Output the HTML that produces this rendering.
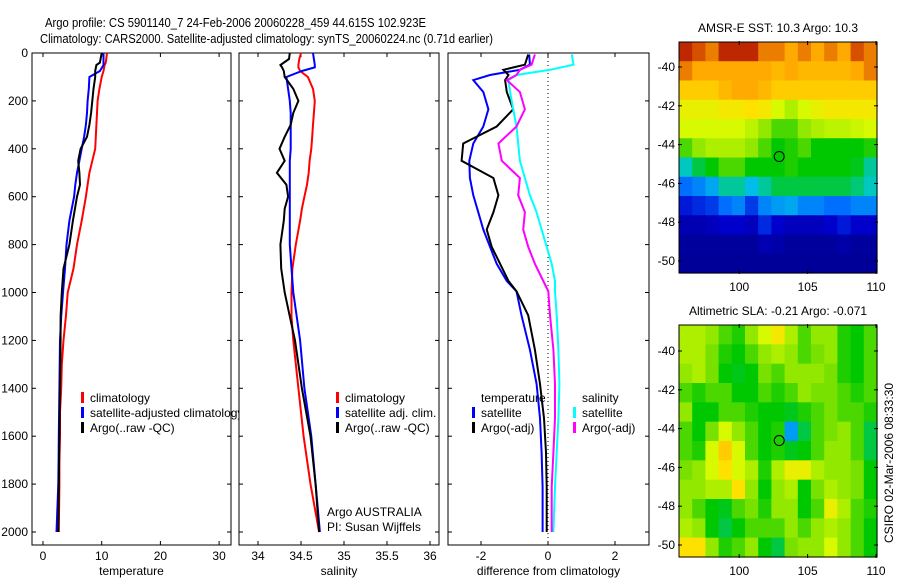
<!DOCTYPE html>
<html><head><meta charset="utf-8">
<style>
html,body{margin:0;padding:0;background:#fff;}
svg{display:block;font-family:"Liberation Sans",sans-serif;}
</style></head>
<body>
<svg id="fig" width="900" height="580" viewBox="0 0 900 580" xmlns="http://www.w3.org/2000/svg">
<text x="45" y="27" font-size="13" textLength="381" lengthAdjust="spacingAndGlyphs">Argo profile: CS 5901140_7 24-Feb-2006 20060228_459 44.615S 102.923E</text>
<text x="40" y="43" font-size="13" textLength="453" lengthAdjust="spacingAndGlyphs">Climatology: CARS2000. Satellite-adjusted climatology: synTS_20060224.nc (0.71d earlier)</text>
<g id="g1"></g><g id="g2"></g><g id="g3"></g><g id="g4"></g><g id="g5"></g>
</svg>
<script>
// ---------- data ----------
const tDepths=[0,40,50,75,100,150,200,250,300,350,400,450,500,550,600,700,800,900,1000,1100,1200,1300,1400,1500,1600,1700,1800,2000];
const tempClim=[10.9,10.7,10.5,10.3,10.0,9.6,9.3,9.2,9.1,9.0,8.9,8.4,7.9,7.6,7.3,6.6,5.8,5.2,4.2,3.9,3.5,3.2,3.1,2.9,2.9,2.8,2.8,2.7];
const tempSat=[10.3,10.3,10.3,9.7,7.9,7.8,7.6,7.5,7.3,7.0,6.6,6.2,5.8,5.5,5.3,4.5,4.0,3.75,3.4,3.1,2.9,2.85,2.8,2.75,2.7,2.65,2.6,2.3];
const tempArgo=[10.0,9.7,9.1,8.9,8.9,8.6,8.4,8.2,7.9,7.5,6.4,6.0,6.2,6.3,5.8,5.1,4.5,3.5,3.2,3.0,3.0,2.95,2.9,2.85,2.8,2.75,2.7,2.6];
const sDepths=[0,25,50,60,75,100,150,200,250,300,350,400,450,500,550,600,650,700,800,900,1000,1100,1200,1400,1600,1800,2000];
const salClim=[34.50,34.48,34.47,34.47,34.49,34.58,34.64,34.66,34.65,34.64,34.63,34.62,34.60,34.59,34.57,34.54,34.51,34.49,34.44,34.40,34.39,34.39,34.41,34.47,34.53,34.61,34.71];
const salSat=[34.64,34.65,34.66,34.66,34.51,34.33,34.35,34.37,34.38,34.38,34.38,34.38,34.37,34.37,34.37,34.37,34.37,34.37,34.37,34.39,34.41,34.45,34.49,34.54,34.62,34.67,34.72];
const salArgo=[34.37,34.36,34.26,34.28,34.30,34.31,34.41,34.47,34.41,34.38,34.31,34.25,34.31,34.22,34.33,34.35,34.31,34.30,34.26,34.27,34.31,34.37,34.43,34.51,34.61,34.67,34.71];
const dDepths=[6,49,70,92,113,163,235,307,378,450,522,594,665,737,809,880,952,995,1095,1239,1382,1525,1668,1812,2000];
const diffTempSat=[-0.56,-0.54,-0.84,-1.73,-2.23,-1.93,-1.78,-1.93,-2.23,-2.35,-2.33,-2.23,-2.08,-1.93,-1.73,-1.53,-1.23,-0.94,-0.79,-0.54,-0.34,-0.24,-0.19,-0.16,-0.16];
const diffTempArgo=[-0.59,-0.69,-1.33,-1.18,-1.28,-1.23,-1.04,-1.53,-2.53,-2.58,-1.63,-1.48,-1.63,-1.83,-1.68,-1.43,-1.18,-0.94,-0.59,-0.39,-0.24,-0.12,-0.06,-0.04,-0.04];
const diffSalSat=[0.71,0.76,0.06,-0.94,-1.18,-1.13,-1.04,-0.94,-0.89,-0.84,-0.69,-0.54,-0.34,-0.19,-0.04,0.11,0.21,0.21,0.26,0.31,0.34,0.31,0.26,0.21,0.16];
const diffSalArgo=[-0.39,-0.49,-0.84,-0.94,-1.23,-0.84,-0.69,-0.94,-1.48,-1.38,-0.84,-0.89,-0.69,-0.74,-0.59,-0.39,-0.14,0.01,0.06,0.16,0.21,0.21,0.16,0.11,0.11];
const depthTicks=[0,200,400,600,800,1000,1200,1400,1600,1800,2000];
const tempTicks=[0,10,20,30];
const salTicks=[34,34.5,35,35.5,36];
const diffTicks=[-2,0,2];
const lonTicks=[100,105,110];
const latTicks=[-40,-42,-44,-46,-48,-50];
const sstGrid=[
[0.95,0.9,0.85,0.95,0.95,0.95,0.85,0.85,0.8,0.85,0.8,0.85,0.8,0.9,0.85],
[0.85,0.8,0.8,0.8,0.8,0.8,0.8,0.78,0.8,0.78,0.78,0.78,0.78,0.8,0.85],
[0.75,0.75,0.75,0.78,0.8,0.8,0.78,0.75,0.75,0.75,0.75,0.75,0.75,0.75,0.75],
[0.68,0.68,0.68,0.7,0.7,0.72,0.7,0.65,0.62,0.65,0.68,0.7,0.7,0.7,0.7],
[0.65,0.65,0.65,0.65,0.65,0.63,0.6,0.55,0.55,0.6,0.62,0.63,0.63,0.64,0.65],
[0.55,0.6,0.62,0.62,0.62,0.6,0.55,0.5,0.52,0.55,0.5,0.5,0.5,0.5,0.52],
[0.38,0.45,0.5,0.55,0.55,0.5,0.5,0.5,0.52,0.5,0.5,0.5,0.5,0.48,0.4],
[0.28,0.3,0.33,0.4,0.4,0.35,0.4,0.45,0.45,0.45,0.45,0.45,0.45,0.42,0.38],
[0.18,0.2,0.22,0.28,0.3,0.22,0.3,0.32,0.33,0.3,0.3,0.28,0.28,0.3,0.3],
[0.1,0.1,0.12,0.15,0.15,0.12,0.2,0.15,0.12,0.12,0.12,0.15,0.18,0.15,0.15],
[0.06,0.06,0.06,0.06,0.06,0.06,0.1,0.08,0.06,0.06,0.06,0.06,0.08,0.06,0.06],
[0.05,0.05,0.05,0.05,0.05,0.05,0.05,0.05,0.05,0.05,0.05,0.05,0.05,0.05,0.05]];
const slaGrid=[
[0.62,0.62,0.6,0.55,0.52,0.6,0.65,0.7,0.62,0.55,0.6,0.6,0.52,0.5,0.55],
[0.62,0.62,0.58,0.52,0.5,0.55,0.6,0.62,0.6,0.55,0.58,0.6,0.52,0.5,0.55],
[0.6,0.62,0.58,0.5,0.48,0.5,0.58,0.55,0.6,0.6,0.6,0.58,0.52,0.5,0.55],
[0.55,0.52,0.55,0.55,0.5,0.5,0.55,0.52,0.55,0.6,0.58,0.58,0.55,0.52,0.55],
[0.6,0.5,0.5,0.55,0.55,0.52,0.5,0.5,0.48,0.52,0.55,0.58,0.55,0.55,0.52],
[0.55,0.5,0.58,0.65,0.6,0.55,0.5,0.52,0.32,0.45,0.55,0.58,0.6,0.55,0.45],
[0.55,0.52,0.65,0.75,0.65,0.55,0.5,0.52,0.48,0.5,0.55,0.6,0.6,0.55,0.45],
[0.58,0.6,0.65,0.72,0.65,0.62,0.52,0.62,0.68,0.68,0.62,0.6,0.6,0.58,0.5],
[0.6,0.6,0.62,0.62,0.72,0.6,0.5,0.6,0.62,0.5,0.58,0.62,0.6,0.58,0.5],
[0.6,0.55,0.5,0.48,0.55,0.58,0.52,0.6,0.6,0.5,0.55,0.68,0.62,0.55,0.52],
[0.62,0.6,0.5,0.45,0.5,0.55,0.55,0.55,0.6,0.55,0.6,0.62,0.6,0.55,0.5],
[0.72,0.72,0.6,0.52,0.55,0.6,0.5,0.45,0.58,0.6,0.6,0.65,0.6,0.55,0.5]];
const floatLon=102.923, floatLat=-44.615;

// ---------- helpers ----------
const NS='http://www.w3.org/2000/svg';
function mk(parent,tag,attrs,txt){const e=document.createElementNS(NS,tag);for(const k in attrs)e.setAttribute(k,attrs[k]);if(txt!==undefined)e.textContent=txt;parent.appendChild(e);return e;}
const Y0=53,YK=0.2395;
const yD=d=>Y0+d*YK;
const xT=v=>43+v*5.87;
const xS=v=>258+(v-34)*86;
const xDf=v=>548+v*33.5;
const TOP=53,BOT=545;

function panel(g,name,L,R,xf,xticks,xlabel,showY){
  const bg=mk(g,'rect',{x:L,y:TOP,width:R-L,height:BOT-TOP,fill:'#fff',stroke:'#000','stroke-width':1});
  
  
  depthTicks.forEach(d=>{
    const y=yD(d);
    mk(g,'line',{x1:L,x2:L+4,y1:y,y2:y,stroke:'#000'});
    mk(g,'line',{x1:R-4,x2:R,y1:y,y2:y,stroke:'#000'});
    if(showY){const t=mk(g,'text',{x:L-4,y:y+4,'font-size':12,'text-anchor':'end'},String(d));
      
      }
  });
  xticks.forEach(v=>{
    const x=xf(v);
    mk(g,'line',{x1:x,x2:x,y1:BOT,y2:BOT-4,stroke:'#000'});
    mk(g,'line',{x1:x,x2:x,y1:TOP,y2:TOP+4,stroke:'#000'});
    const t=mk(g,'text',{x:x,y:BOT+15,'font-size':12,'text-anchor':'middle'},String(v));
    
    
  });
  const xl=mk(g,'text',{x:(L+R)/2,y:BOT+30,'font-size':12,'text-anchor':'middle'},xlabel);
  
  
}
function series(g,name,vals,depths,xf,color,w){
  const pts=vals.map((v,i)=>xf(v).toFixed(1)+','+yD(depths[i]).toFixed(1)).join(' ');
  const p=mk(g,'polyline',{points:pts,fill:'none',stroke:color,'stroke-width':w||2,'stroke-linejoin':'miter'});
  
  
}
function legend(g,x,y,color,label,name){
  if(color){mk(g,'rect',{x:x,y:y-10,width:3,height:11,fill:color});}
  const t=mk(g,'text',{x:x+9,y:y,'font-size':12},label);
  
  
}

// ---------- panel 1 ----------
const g1=document.getElementById('g1');
panel(g1,'temperature-panel',32,231,xT,tempTicks,'temperature',true);
series(g1,'temp-climatology-line',tempClim,tDepths,xT,'#ff0000');
series(g1,'temp-satellite-line',tempSat,tDepths,xT,'#0000ff');
series(g1,'temp-argo-line',tempArgo,tDepths,xT,'#000000');
legend(g1,81,402,'#ff0000','climatology','legend-climatology');
legend(g1,81,417,'#0000ff','satellite-adjusted climatology','legend-satellite-adjusted');
legend(g1,81,432,'#000000','Argo(..raw -QC)','legend-argo-raw');

// ---------- panel 2 ----------
const g2=document.getElementById('g2');
panel(g2,'salinity-panel',239,439,xS,salTicks,'salinity',false);
series(g2,'sal-climatology-line',salClim,sDepths,xS,'#ff0000');
series(g2,'sal-satellite-line',salSat,sDepths,xS,'#0000ff');
series(g2,'sal-argo-line',salArgo,sDepths,xS,'#000000');
legend(g2,336,402,'#ff0000','climatology','legend-sal-climatology');
legend(g2,336,417,'#0000ff','satellite adj. clim.','legend-sal-satellite');
legend(g2,336,432,'#000000','Argo(..raw -QC)','legend-sal-argo');
legend(g2,318,516,null,'Argo AUSTRALIA','argo-australia-label');
legend(g2,318,531,null,'PI: Susan Wijffels','pi-label');

// ---------- panel 3 ----------
const g3=document.getElementById('g3');
panel(g3,'difference-panel',448,649,xDf,diffTicks,'difference from climatology',false);
const zl=mk(g3,'line',{x1:xDf(0),x2:xDf(0),y1:TOP,y2:BOT,stroke:'#000','stroke-width':1,'stroke-dasharray':'1,3'});


series(g3,'diff-temp-satellite-line',diffTempSat,dDepths,xDf,'#0000ff');
series(g3,'diff-temp-argo-line',diffTempArgo,dDepths,xDf,'#000000');
series(g3,'diff-sal-satellite-line',diffSalSat,dDepths,xDf,'#00ffff');
series(g3,'diff-sal-argo-line',diffSalArgo,dDepths,xDf,'#ff00ff');
legend(g3,472,402,null,'temperature','legend-temperature-header');
legend(g3,472,417,'#0000ff','satellite','legend-temp-satellite');
legend(g3,472,432,'#000000','Argo(-adj)','legend-temp-argo');
legend(g3,573,402,null,'salinity','legend-salinity-header');
legend(g3,573,417,'#00ffff','satellite','legend-sal-sat');
legend(g3,573,432,'#ff00ff','Argo(-adj)','legend-sal-argo-adj');

// ---------- maps ----------
const stops=[[0,[0,0,125]],[0.15,[0,0,205]],[0.28,[0,110,255]],[0.36,[0,200,230]],[0.44,[0,200,80]],[0.5,[0,200,0]],[0.58,[120,225,0]],[0.65,[215,250,0]],[0.72,[255,225,0]],[0.8,[255,170,0]],[0.9,[215,80,0]],[1,[165,0,0]]];
function cmap(v){
  for(let i=1;i<stops.length;i++){if(v<=stops[i][0]){const a=stops[i-1],b=stops[i];const t=(v-a[0])/(b[0]-a[0]);
    const c=a[1].map((x,k)=>Math.round(x+(b[1][k]-x)*t));return 'rgb('+c.join(',')+')';}}
  return 'rgb(165,0,0)';
}
const ML=679,MR=877,LON0=95.6,LON1=110.07;
const xLon=lon=>ML+(lon-LON0)/(LON1-LON0)*(MR-ML);
function map(g,name,grid,top,bot,latY0,title){
  const yLat=lat=>latY0+(-40-lat)*19.4;
  const rows=grid.length,cols=grid[0].length;
  const cw=(MR-ML)/cols,ch=(bot-top)/rows;
  grid.forEach((row,r)=>row.forEach((v,c)=>{
    const cell=mk(g,'rect',{x:(ML+c*cw).toFixed(2),y:(top+r*ch).toFixed(2),width:(cw+0.6).toFixed(2),height:(ch+0.6).toFixed(2),fill:cmap(v)});
    
    
  }));
  const fr=mk(g,'rect',{x:ML,y:top,width:MR-ML,height:bot-top,fill:'none',stroke:'#000'});
  
  
  latTicks.forEach(l=>{const y=yLat(l);
    mk(g,'line',{x1:ML-1,x2:ML+3,y1:y,y2:y,stroke:'#000'});
    mk(g,'line',{x1:MR-3,x2:MR+1,y1:y,y2:y,stroke:'#000'});
    const t=mk(g,'text',{x:ML-4,y:y+4,'font-size':12,'text-anchor':'end'},String(l));
    
    });
  lonTicks.forEach(l=>{const x=xLon(l);
    mk(g,'line',{x1:x,x2:x,y1:top-1,y2:top+3,stroke:'#000'});
    mk(g,'line',{x1:x,x2:x,y1:bot-3,y2:bot+1,stroke:'#000'});
    const t=mk(g,'text',{x:x,y:bot+18,'font-size':12,'text-anchor':'middle'},String(l));
    
    });
  const c=mk(g,'circle',{cx:xLon(floatLon),cy:yLat(floatLat),r:5,fill:'none',stroke:'#000'});
  
  
  const tt=mk(g,'text',{x:(ML+MR)/2,y:top-10,'font-size':12,'text-anchor':'middle'},title);
  
  
}
map(document.getElementById('g4'),'sst-map',sstGrid,42,273,67,'AMSR-E SST: 10.3 Argo: 10.3');
map(document.getElementById('g5'),'sla-map',slaGrid,325,557,351,'Altimetric SLA: -0.21 Argo: -0.071');
const cs=mk(document.getElementById('g5'),'text',{x:0,y:0,'font-size':12,'text-anchor':'middle',transform:'translate(893,463) rotate(-90)'},'CSIRO 02-Mar-2006 08:33:30');


</script>
</body></html>
